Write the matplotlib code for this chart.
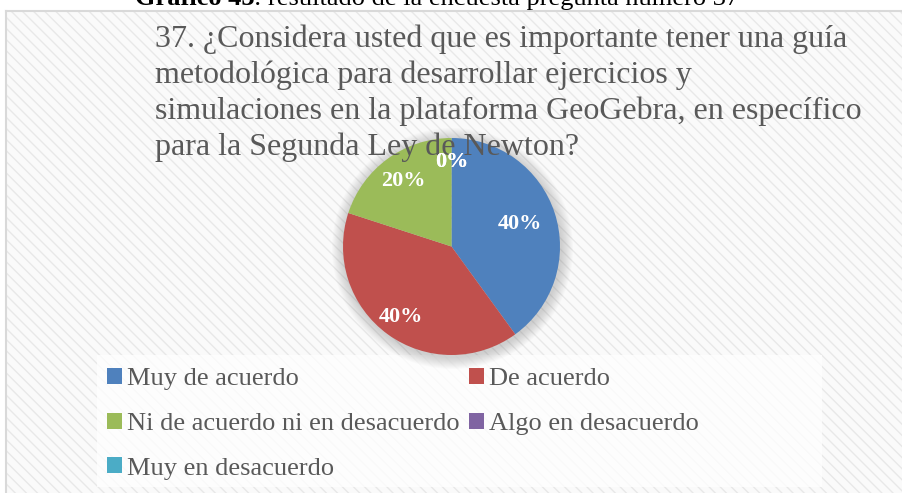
import matplotlib
matplotlib.use("Agg")
import numpy as np
import matplotlib.pyplot as plt
from matplotlib.patches import Rectangle, Circle

# Datos de la pregunta 37
categorias = ["Muy de acuerdo", "De acuerdo", "Ni de acuerdo ni en desacuerdo",
              "Algo en desacuerdo", "Muy en desacuerdo"]
porcentajes = [40, 40, 20, 0, 0]
colores = ["#4F81BD", "#C0504D", "#9BBB59", "#8064A2", "#4BACC6"]

titulo = [
    "37. ¿Considera usted que es importante tener una guía",
    "metodológica para desarrollar ejercicios y",
    "simulaciones en la plataforma GeoGebra, en específico",
    "para la Segunda Ley de Newton?",
]

SERIF = "Liberation Serif"
GRIS = "#595959"

W, H = 902, 493
fig = plt.figure(figsize=(W / 100, H / 100), dpi=100)
fig.patch.set_facecolor("white")


def pixel_axes(z):
    a = fig.add_axes([0, 0, 1, 1])
    a.set_xlim(0, W)
    a.set_ylim(H, 0)
    a.axis("off")
    a.set_zorder(z)
    return a


# capa de fondo
ax = pixel_axes(1)

# Fondo rayado del área del gráfico
ax.add_patch(Rectangle((6, 11), W - 6, H - 11, facecolor="#FAFAFA",
                       edgecolor="#E8E8E8", linewidth=0, hatch="\\\\\\", zorder=0))
ax.plot([6, W], [11, 11], color="#D9D9D9", lw=1.5, zorder=1)
ax.plot([6, 6], [11, H], color="#D9D9D9", lw=1.5, zorder=1)

# Leyenda: recuadro claro
ax.add_patch(Rectangle((97, 355), 725, 132, facecolor="white", alpha=0.75,
                       linewidth=0, zorder=1))

# Sombra difusa del pastel
cx, cy, r = 451.5, 246.5, 108.5
for k in range(12, 0, -1):
    ax.add_patch(Circle((cx + 1, cy + 2), r + k, facecolor="#808080",
                        alpha=0.03, linewidth=0, zorder=2))

# Pie de figura (cortado arriba)
t1 = ax.text(135, 5, "Gráfico 43", fontsize=19, fontweight="bold",
             family=SERIF, color="black", va="baseline", ha="left", zorder=5)
fig.canvas.draw()
bb = t1.get_window_extent()
ax.text(135 + bb.width, 5, ": resultado de la encuesta pregunta número 37",
        fontsize=19, family=SERIF, color="black", va="baseline", ha="left", zorder=5)

# Pastel
pos = [(cx - r) / W, (H - cy - r) / H, 2 * r / W, 2 * r / H]
pie_ax = fig.add_axes(pos)
pie_ax.set_zorder(2)
wedges, _, textos = pie_ax.pie(
    porcentajes, colors=colores, startangle=90, counterclock=False,
    radius=1, autopct="%1.0f%%", pctdistance=0.75,
    wedgeprops={"linewidth": 0},
)
pie_ax.set_xlim(-1, 1)
pie_ax.set_ylim(-1, 1)
pie_ax.axis("off")
for t in textos:
    t.set_visible(False)

# Título (por encima del pastel)
ax_tit = pixel_axes(3)
base = [47, 83, 119, 155]
for linea, y in zip(titulo, base):
    ax_tit.text(155, y, linea, fontsize=23, family=SERIF, color=GRIS,
                va="baseline", ha="left")

# Porcentajes por encima del título; distancia radial de cada etiqueta
distancias = [0.66, 0.80, 0.75, 0.78, 0.78]
txt_ax = fig.add_axes(pos)
txt_ax.set_xlim(-1, 1)
txt_ax.set_ylim(-1, 1)
txt_ax.axis("off")
txt_ax.set_zorder(4)
for w, t, d in zip(wedges, textos, distancias):
    ang = np.deg2rad((w.theta1 + w.theta2) / 2)
    txt_ax.text(d * np.cos(ang), d * np.sin(ang), t.get_text(), fontsize=16,
                fontweight="bold", color="white", family=SERIF,
                ha="center", va="center")

orden = [0, 2, 4, 1, 3]
leg = fig.legend([wedges[i] for i in orden], [categorias[i] for i in orden],
                 ncol=2, loc="upper left",
                 bbox_to_anchor=(107 / W, 1 - 368 / H),
                 frameon=False, prop={"family": SERIF, "size": 19},
                 labelcolor=GRIS, handlelength=0.55, handleheight=0.55,
                 handletextpad=0.2, columnspacing=0.37, labelspacing=0.85,
                 borderpad=0, borderaxespad=0)
leg.set_zorder(6)

fig.savefig("out.png", dpi=100, facecolor="white")
